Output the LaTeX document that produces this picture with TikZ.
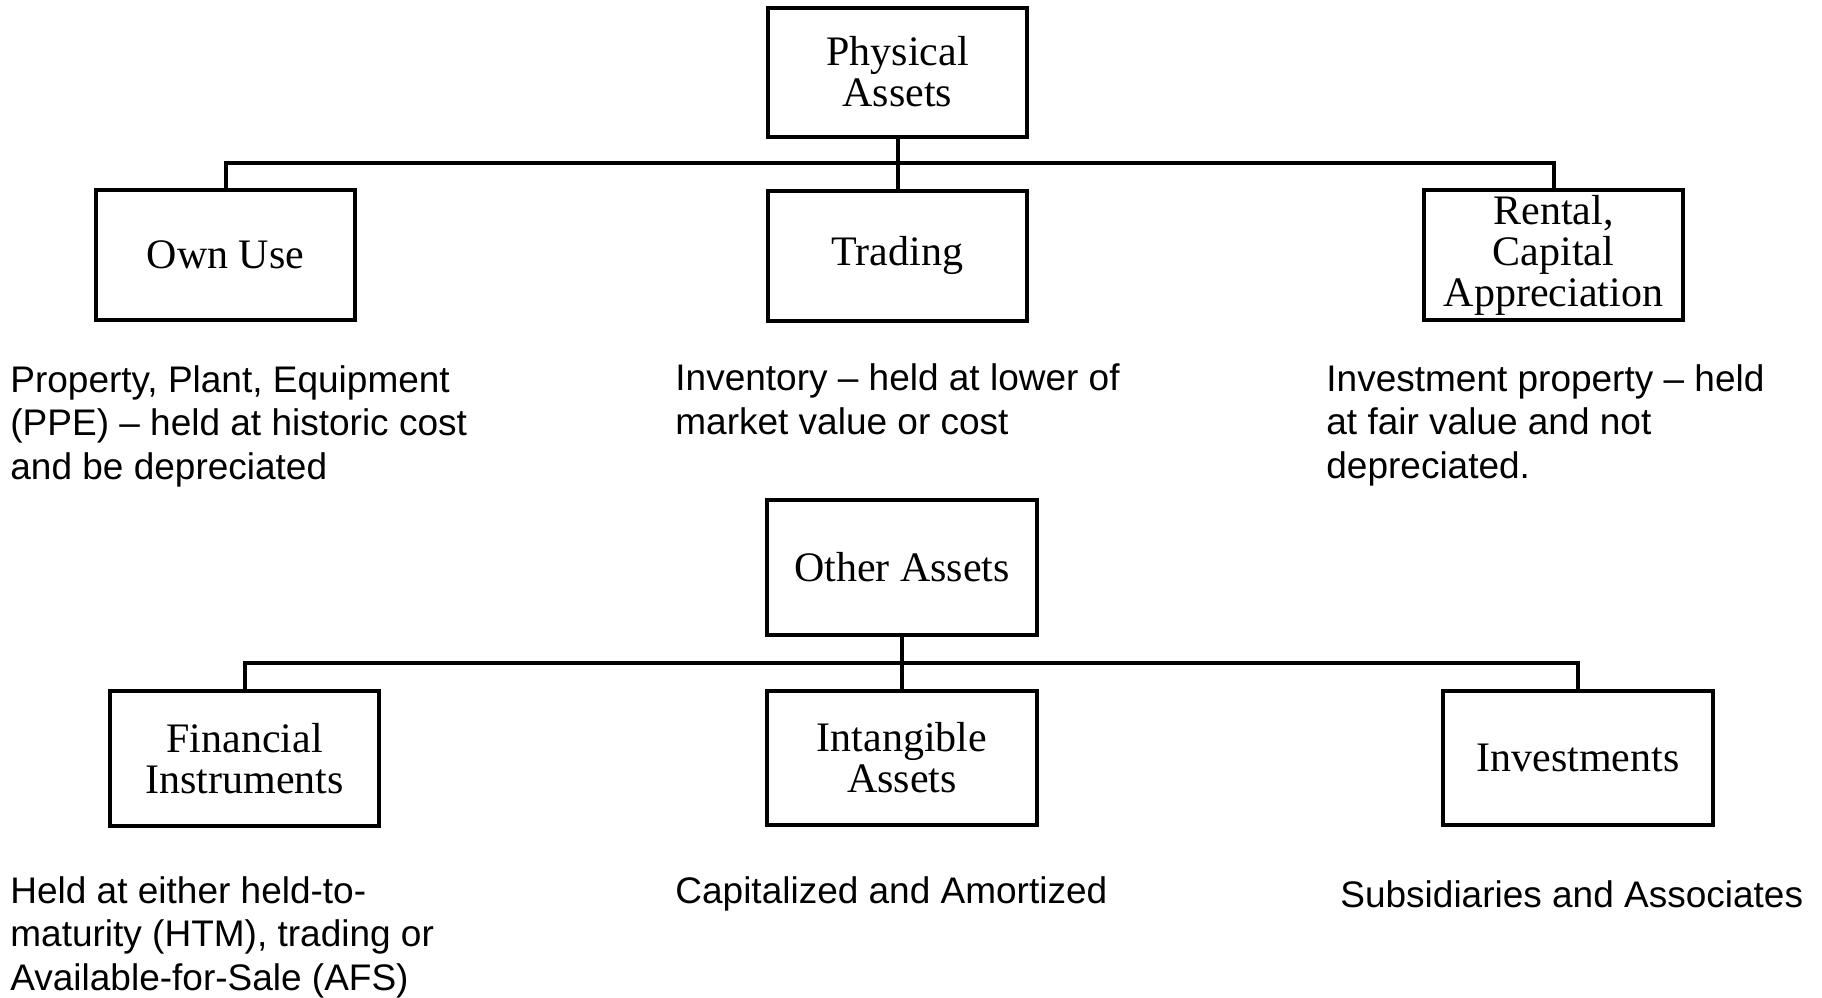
\documentclass[tikz,border=0pt]{standalone}
\usepackage{fontspec}
\setmainfont{Liberation Serif}
\newfontfamily\descfont{Liberation Sans}
\begin{document}
\begin{tikzpicture}[x=0.5pt,y=-0.5pt,
  catbox/.style={draw=black,line width=2pt,rectangle,align=center,inner sep=0pt,
    font=\fontsize{21}{20.5}\selectfont},
  desc/.style={anchor=base west,align=left,inner sep=0pt,
    font=\descfont\fontsize{18.5}{21.7}\selectfont},
  conn/.style={line width=2pt,draw=black}]
\useasboundingbox (0,0) rectangle (1822,997);
% top tree
\node[catbox,minimum width=129.5pt,minimum height=64.5pt] (phys) at (897.5,72) {Physical\\Assets};
\node[catbox,minimum width=129.5pt,minimum height=65pt] (own) at (225.5,255) {Own Use};
\node[catbox,minimum width=129.5pt,minimum height=65pt] (trad) at (897.5,255.5) {Trading};
\node[catbox,minimum width=129.5pt,minimum height=65pt] (rent) at (1553.5,255) {Rental,\\Capital\\Appreciation};
\coordinate (bus1) at (897.5,163);
\draw[conn] (phys.south) -- (trad.north);
\draw[conn] (own.north) -- (own.north |- bus1) -- (rent.north |- bus1) -- (rent.north);
% descriptions top (anchored at last line's baseline)
\node[desc] (ownd) at (10,479) {Property, Plant, Equipment\\(PPE) – held at historic cost\\and be depreciated};
\node[desc] (tradd) at (675,434) {Inventory – held at lower of\\market value or cost};
\node[desc] (rentd) at (1326,478) {Investment property – held\\at fair value and not\\depreciated.};
% bottom tree
\node[catbox,minimum width=135pt,minimum height=67.5pt] (other) at (902,567.5) {Other Assets};
\node[catbox,minimum width=134.5pt,minimum height=67.5pt] (fin) at (244.5,758.5) {Financial\\Instruments};
\node[catbox,minimum width=135pt,minimum height=67pt] (intang) at (902,758) {Intangible\\Assets};
\node[catbox,minimum width=135pt,minimum height=67pt] (invest) at (1578,758) {Investments};
\coordinate (bus2) at (902,663);
\draw[conn] (other.south) -- (intang.north);
\draw[conn] (fin.north) -- (fin.north |- bus2) -- (invest.north |- bus2) -- (invest.north);
% descriptions bottom
\node[desc] (find) at (10,990) {Held at either held-to-\\maturity (HTM), trading or\\Available-for-Sale (AFS)};
\node[desc] (intangd) at (675,903) {Capitalized and Amortized};
\node[desc] (investd) at (1340,907) {Subsidiaries and Associates};
\end{tikzpicture}
\end{document}
